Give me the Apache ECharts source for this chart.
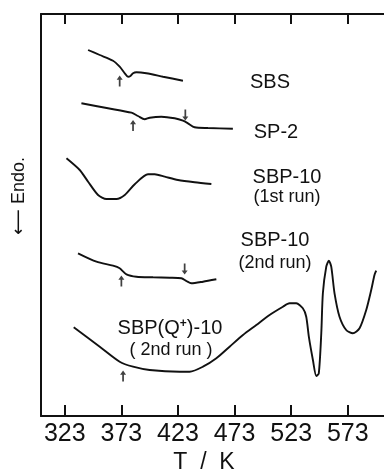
<!DOCTYPE html>
<html>
<head>
<meta charset="utf-8">
<script src="https://cdn.jsdelivr.net/npm/echarts@6/dist/echarts.min.js"></script>
<style>
  html, body { margin: 0; padding: 0; background: #fff; }
  #dsc { width: 384px; height: 472px; }
</style>
</head>
<body>
<div id="dsc"></div>
<script>
// temperature ticks (K)
var tickTemps = [323, 373, 423, 473, 523, 573];

// DSC traces, T in K, signal in arbitrary units (offset per curve)
var sbsT = [343.6, 353.9, 365.6, 371.5, 376, 378.9, 381, 383.3, 386.3, 395.1, 409.8, 427.4];
var sbsV = [366, 361, 355.3, 349.3, 342.7, 339.3, 340, 342.7, 343.7, 342.7, 339.3, 335.3];

var sp2T = [337.7, 361.2, 381.9, 387.7, 393.6, 398, 408.3, 420.1, 427.4, 431.8, 437.7, 449.5, 471.5];
var sp2V = [312.7, 307.7, 303.3, 300, 296.7, 298.3, 299.3, 297.7, 295.3, 292.7, 288.7, 288, 287.3];

var sbp1T = [324.5, 336.2, 343.6, 352.4, 359.8, 368.6, 376, 384.8, 396.5, 402.4, 411.3, 423, 437.7, 452.5];
var sbp1V = [257.7, 246, 234.3, 221, 217, 217, 221, 231.7, 241.7, 241.7, 239.3, 236, 233.7, 232];

var sbp2T = [334.7, 351, 365.6, 371.5, 377.5, 386.3, 401, 415.7, 426, 430.4, 434.8, 445.1, 456.9];
var sbp2V = [162.7, 154.3, 150.3, 147.7, 141.7, 139.3, 138.7, 138.3, 137.7, 135, 132.7, 134.3, 136.7];

var sbpqT = [330.9, 353.9, 371.5, 383.3, 398, 424.5, 433.3, 445.1, 456.9, 468.6, 480.4, 492.2, 503.9,
  515.7, 521.6, 527.5, 533.3, 536.3, 538.6, 542.2, 545.2, 547.4, 549.6, 551, 554, 556.3, 558.4,
  561.3, 565.7, 571.6, 577.5, 583.4, 589.3, 593.7, 596.6, 598.1];
var sbpqV = [88.7, 69.3, 54.3, 49.3, 46, 44.3, 44.3, 49.3, 57.7, 69.3, 81, 91, 101,
  109.3, 112.7, 112.7, 107.7, 99.3, 79.3, 56, 40, 42.7, 82.7, 122.7, 149.3, 155.3, 149.3,
  122.7, 99.3, 86, 82.7, 87.7, 106, 126, 141, 145.3];

// transition arrows: [T, signal], up or down
var upArrows = [[371.5, 335], [383.3, 290.5], [373, 135], [374.5, 40]];
var downArrows = [[429.5, 301], [428.9, 147]];

function zip(t, v) {
  return t.map(function (x, i) { return [x, v[i]]; });
}

var ink = "#111";
var arrowPath = "path://M5,0 L9.5,6 L6.3,6 L6.3,16 L3.7,16 L3.7,6 L0.5,6 Z";

function trace(t, v) {
  return {
    type: "line",
    data: zip(t, v),
    smooth: 0.25,
    symbol: "none",
    lineStyle: { color: ink, width: 1.9 },
    silent: true,
  };
}

function label(text, x, y, size) {
  return {
    type: "text", x: x, y: y,
    style: { text: text, font: size + "px Liberation Sans", fill: ink, align: "center", verticalAlign: "middle" },
  };
}

var myChart = echarts.init(document.getElementById("dsc"));

var option = {
  backgroundColor: "#fff",
  animation: false,
  grid: { left: 41, right: 0, top: 14, bottom: 56 },
  xAxis: [
    {
      type: "value",
      min: 302,
      max: 605,
      position: "bottom",
      splitLine: { show: false },
      axisLine: { lineStyle: { color: ink, width: 2 } },
      axisTick: {
        inside: true,
        length: 11,
        customValues: tickTemps,
        lineStyle: { color: ink, width: 2 },
      },
      axisLabel: {
        customValues: tickTemps,
        margin: 6,
        color: ink,
        fontSize: 25,
        fontFamily: "Liberation Sans Narrow, Liberation Sans, sans-serif",
      },
    },
    {
      type: "value",
      min: 302,
      max: 605,
      position: "top",
      splitLine: { show: false },
      axisLine: { lineStyle: { color: ink, width: 2 } },
      axisTick: {
        inside: true,
        length: 10,
        customValues: tickTemps,
        lineStyle: { color: ink, width: 2 },
      },
      axisLabel: { show: false },
    },
  ],
  yAxis: {
    type: "value",
    min: 0,
    max: 402,
    splitLine: { show: false },
    axisTick: { show: false },
    axisLabel: { show: false },
    axisLine: { show: true, lineStyle: { color: ink, width: 2 } },
  },
  series: [
    trace(sbsT, sbsV),
    trace(sp2T, sp2V),
    trace(sbp1T, sbp1V),
    trace(sbp2T, sbp2V),
    trace(sbpqT, sbpqV),
    {
      type: "scatter",
      data: upArrows,
      symbol: arrowPath,
      symbolSize: [6, 11],
      itemStyle: { color: ink },
      silent: true,
    },
    {
      type: "scatter",
      data: downArrows,
      symbol: arrowPath,
      symbolSize: [6, 11],
      symbolRotate: 180,
      itemStyle: { color: ink },
      silent: true,
    },
  ],
  graphic: [
    // curve names
    label("SBS", 270, 82, 20),
    label("SP-2", 276, 132, 20),
    label("SBP-10", 287, 177, 20),
    label("(1st run)", 287, 197, 18),
    label("SBP-10", 275, 240, 20),
    label("(2nd run)", 275, 263, 18),
    {
      type: "text", x: 170, y: 328,
      style: {
        text: "SBP(Q{s|+})-10",
        font: "20px Liberation Sans", fill: ink, align: "center", verticalAlign: "middle",
        rich: { s: { fontSize: 12, fontFamily: "Liberation Sans", fontWeight: "bold", verticalAlign: "top", padding: [0, 0, 8, 0], fill: ink } },
      },
    },
    label("( 2nd run )", 171, 350, 18),
    // axis titles
    {
      type: "text", x: 19, y: 196, rotation: Math.PI / 2,
      style: { text: "\u27F5 Endo.", font: "18px Liberation Sans Narrow, Liberation Sans, DejaVu Sans", fill: ink, align: "center", verticalAlign: "middle" },
    },
    label("T  /  K", 204, 463, 23),
  ],
};

myChart.setOption(option);
window.onresize = function () {
  myChart.resize();
};
</script>
</body>
</html>
